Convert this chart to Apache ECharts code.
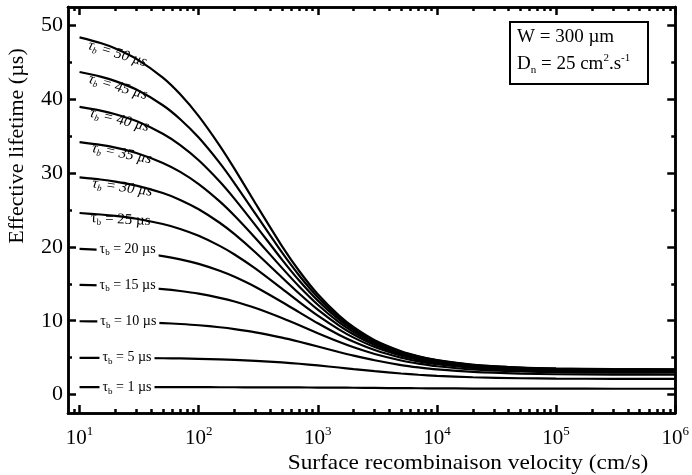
<!DOCTYPE html>
<html>
<head>
<meta charset="utf-8">
<script src="https://cdn.jsdelivr.net/npm/echarts@6/dist/echarts.min.js"></script>
<style>html,body{margin:0;padding:0;background:#fff;}#c{width:692px;height:475px;}</style>
</head>
<body>
<div id="c"></div>
<script>
// Surface recombination velocity (cm/s)
const velocity = [10,15,20,30,50,70,100,150,200,300,500,700,1000,1500,2000,3000,5000,7000,10000,20000,50000,100000,300000,1000000];
// Bulk lifetimes (µs)
const tauB = [50,45,40,35,30,25,20,15,10,5,1];
// Effective lifetime (µs) for each bulk lifetime
const tau50 = [48.39,47.63,46.89,45.48,42.93,40.67,37.72,33.73,30.57,25.88,20.11,16.70,13.58,10.72,9.12,7.37,5.87,5.19,4.67,4.04,3.66,3.53,3.45,3.41];
const tau45 = [43.69,43.07,42.46,41.31,39.19,37.30,34.81,31.38,28.62,24.47,19.25,16.10,13.19,10.47,8.94,7.26,5.79,5.13,4.62,4.01,3.63,3.50,3.42,3.39];
const tau40 = [38.96,38.47,37.98,37.06,35.34,33.80,31.74,28.86,26.51,22.92,18.28,15.41,12.72,10.18,8.72,7.11,5.70,5.06,4.56,3.96,3.60,3.47,3.39,3.36];
const tau35 = [34.20,33.82,33.45,32.73,31.38,30.16,28.51,26.17,24.22,21.18,17.16,14.61,12.17,9.82,8.46,6.94,5.59,4.97,4.49,3.91,3.55,3.43,3.35,3.32];
const tau30 = [29.41,29.13,28.85,28.31,27.30,26.37,25.10,23.27,21.72,19.24,15.86,13.66,11.50,9.38,8.13,6.71,5.44,4.86,4.40,3.84,3.49,3.37,3.29,3.27];
const tau25 = [24.59,24.39,24.20,23.82,23.10,22.43,21.50,20.14,18.97,17.05,14.34,12.52,10.68,8.83,7.71,6.43,5.25,4.70,4.27,3.74,3.41,3.30,3.22,3.20];
const tau20 = [19.74,19.61,19.48,19.24,18.76,18.32,17.70,16.77,15.95,14.57,12.54,11.13,9.65,8.11,7.16,6.04,4.99,4.49,4.10,3.61,3.30,3.19,3.12,3.10];
const tau15 = [14.85,14.78,14.71,14.57,14.29,14.03,13.67,13.10,12.60,11.72,10.37,9.39,8.31,7.15,6.40,5.49,4.61,4.18,3.83,3.40,3.13,3.03,2.97,2.95];
const tau10 = [9.93,9.90,9.87,9.81,9.68,9.56,9.39,9.12,8.87,8.43,7.71,7.15,6.51,5.77,5.27,4.64,3.99,3.67,3.40,3.06,2.83,2.75,2.70,2.68];
const tau5  = [4.98,4.98,4.97,4.95,4.92,4.89,4.84,4.77,4.70,4.57,4.35,4.17,3.94,3.66,3.45,3.17,2.85,2.68,2.54,2.34,2.21,2.16,2.13,2.11];
const tau1  = [0.999,0.999,0.999,0.998,0.997,0.995,0.994,0.990,0.987,0.982,0.971,0.962,0.949,0.932,0.918,0.896,0.869,0.853,0.837,0.815,0.798,0.792,0.787,0.786];
const curves = [tau50,tau45,tau40,tau35,tau30,tau25,tau20,tau15,tau10,tau5,tau1];

// Tick values
const xMajorTicks = [10,100,1000,10000,100000,1000000];
const xMinorTicks = [9];
for (let d = 10; d < 1000000; d *= 10) { for (let k = 2; k <= 9; k++) xMinorTicks.push(k*d); }
const yMajorTicks = [0,10,20,30,40,50];
const yMinorTicks = [5,15,25,35,45];

// label styling (not data)
const labelAnchorS = [12.4,12.4,12.6,13.0,13.0,12.5,13.9,13.9,14.1,14.7,14.7];
const labelRotate  = [-17,-16,-14,-11,-8,-3,0,0,0,0,0];
const labelOffsetY = [8,7,6,6,6,5,0,0,0,0,0];

const serif = 'Liberation Serif';
const black = '#000';

const chart = echarts.init(document.getElementById('c'), null, {renderer:'canvas'});

function xAxisDef(pos, ticks, len, showLabel) {
  return {
    type: 'log', logBase: 10, min: 8, max: 1000000, position: pos,
    axisLine: {show: true, onZero: false, lineStyle: {color: black, width: 2.5}},
    axisTick: {show: true, inside: true, length: len, customValues: ticks, lineStyle: {color: black, width: 2.5}},
    minorTick: {show: false},
    splitLine: {show: false},
    axisLabel: showLabel ? {
      show: true, customValues: xMajorTicks, margin: 12,
      color: black, fontFamily: serif, fontSize: 21,
      formatter: function (v) { return '10{sup|' + Math.round(Math.log10(v)) + '}'; },
      rich: {sup: {fontSize: 13, fontFamily: serif, color: black, padding: [0,0,14,0]}}
    } : {show: false}
  };
}
function yAxisDef(pos, ticks, len, showLabel) {
  return {
    type: 'value', min: -2.5, max: 52.5, position: pos,
    axisLine: {show: true, onZero: false, lineStyle: {color: black, width: 2.5}},
    axisTick: {show: true, inside: true, length: len, customValues: ticks, lineStyle: {color: black, width: 2.5}},
    splitLine: {show: false},
    axisLabel: showLabel ? {show: true, customValues: yMajorTicks, margin: 5, color: black, fontFamily: serif, fontSize: 22} : {show: false}
  };
}

const series = curves.map(function (vals, i) {
  const low = tauB[i] <= 20;
  const italic = tauB[i] >= 30;
  const fs = low ? 14 : 15;
  return {
    type: 'line', xAxisIndex: 0, yAxisIndex: 0,
    data: velocity.map(function (s, j) { return [s, vals[j]]; }),
    smooth: 0.25, showSymbol: false, symbol: 'none',
    lineStyle: {color: black, width: 2.2},
    markPoint: {
      symbol: 'circle', symbolSize: 0, silent: true,
      data: [{coord: [labelAnchorS[i], vals[0]]}],
      label: {
        show: true, position: 'inside', align: 'left', verticalAlign: 'middle',
        rotate: labelRotate[i], offset: [0, labelOffsetY[i]],
        formatter: '{t|τ}{s|b}{t| = ' + tauB[i] + ' µs}',
        backgroundColor: low ? '#fff' : 'transparent', padding: low ? [1,3,1,3] : 0,
        rich: {
          t: {fontSize: fs, fontFamily: serif, color: black, fontStyle: italic ? 'italic' : 'normal'},
          s: {fontSize: 9, fontFamily: serif, color: black, fontStyle: italic ? 'italic' : 'normal', padding: [8,0,0,0]}
        }
      }
    }
  };
});

chart.setOption({
  animation: false,
  backgroundColor: '#fff',
  grid: {left: 68, right: 16, top: 7, bottom: 62, containLabel: false},
  xAxis: [
    xAxisDef('bottom', xMajorTicks, 8, true),
    xAxisDef('bottom', xMinorTicks, 4, false),
    xAxisDef('top', xMajorTicks, 8, false),
    xAxisDef('top', xMinorTicks, 4, false)
  ],
  yAxis: [
    yAxisDef('left', yMajorTicks, 8, true),
    yAxisDef('left', yMinorTicks, 4, false),
    yAxisDef('right', yMajorTicks, 8, false),
    yAxisDef('right', yMinorTicks, 4, false)
  ],
  series: series,
  graphic: [
    {type: 'text', x: 17, y: 146, rotation: Math.PI / 2,
     style: {text: 'Effective lifetime (µs)', fontFamily: serif, fontSize: 22, fill: black, align: 'center', verticalAlign: 'middle'}},
    {type: 'text', x: 468, y: 463, scaleX: 1.06,
     style: {text: 'Surface recombinaison velocity (cm/s)', fontFamily: serif, fontSize: 22, fill: black, align: 'center', verticalAlign: 'middle'}},
    {type: 'rect', shape: {x: 510, y: 22, width: 138, height: 62}, style: {fill: '#fff', stroke: black, lineWidth: 2}, z: 100},
    {type: 'text', x: 517, y: 37, z: 101,
     style: {text: 'W = 300 µm', fontFamily: serif, fontSize: 19, fill: black, align: 'left', verticalAlign: 'middle'}},
    {type: 'text', x: 517, y: 64, z: 101,
     style: {text: '{n|D}{sub|n}{n| = 25 cm}{sup|2}{n|.s}{sup|-1}', align: 'left', verticalAlign: 'middle',
       rich: {
         n: {fontFamily: serif, fontSize: 19, fill: black},
         sub: {fontFamily: serif, fontSize: 11, fill: black, padding: [12,0,0,0]},
         sup: {fontFamily: serif, fontSize: 11, fill: black, padding: [0,0,12,0]}
       }}}
  ]
});
</script>
</body>
</html>
